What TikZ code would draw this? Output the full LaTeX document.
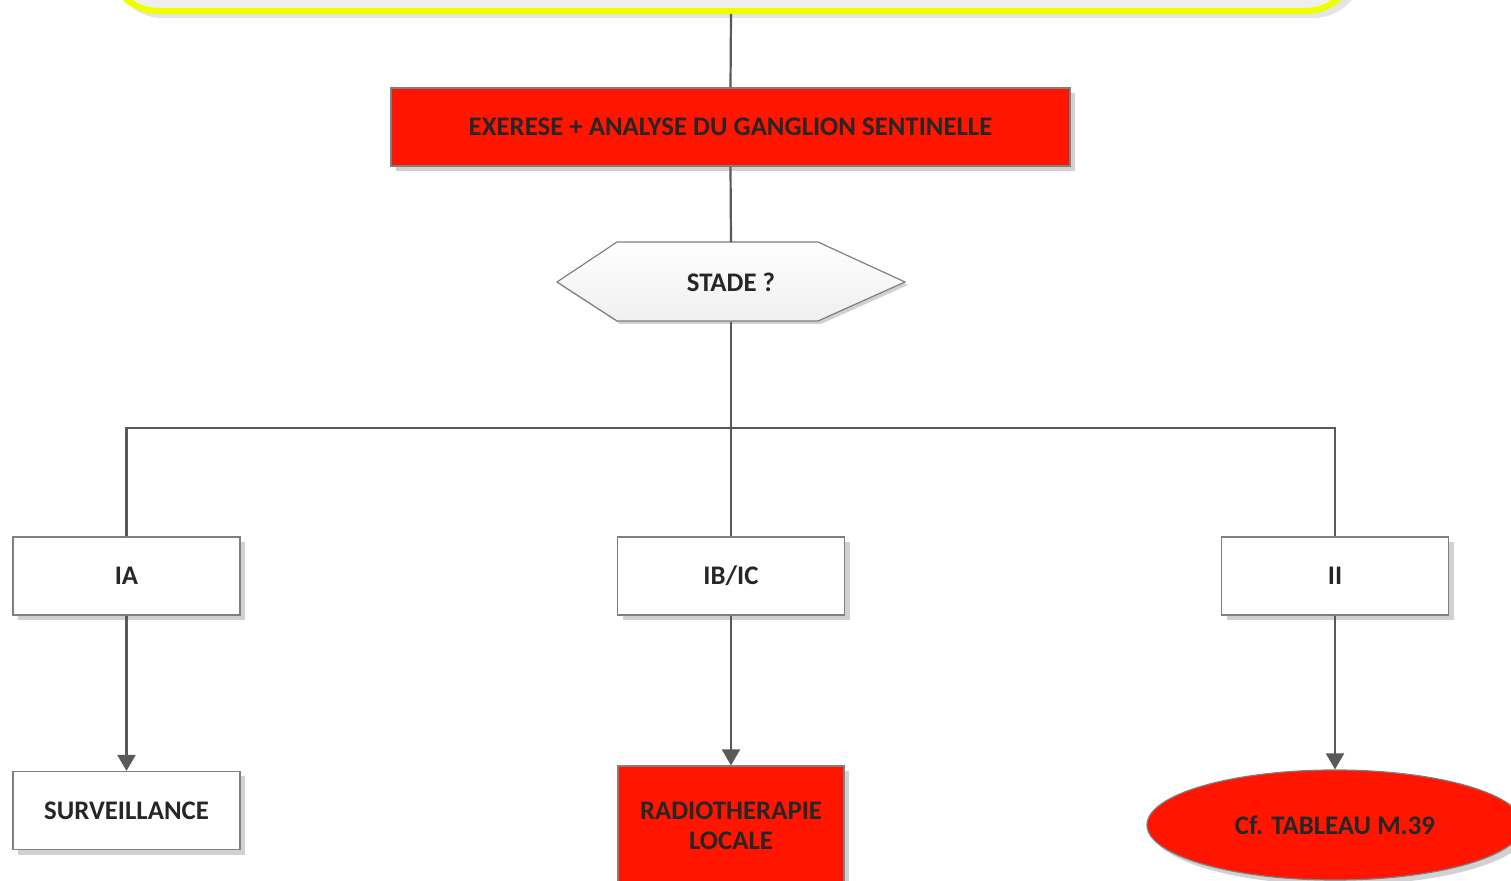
\documentclass[tikz,border=0pt]{standalone}
\usepackage{fontspec}
\setmainfont{Carlito}
\usetikzlibrary{arrows.meta,shadows,shapes.geometric}
\definecolor{rd}{HTML}{FF1500}
\definecolor{ln}{HTML}{595959}
\definecolor{bd}{HTML}{7F7F7F}
\definecolor{tx}{HTML}{262626}
\definecolor{yl}{HTML}{F0FF00}
\definecolor{lg}{HTML}{EFEFEF}
\tikzset{
  shd/.style={drop shadow={shadow xshift=2.5pt,shadow yshift=-2.5pt,fill=black!18,opacity=1}},
  lbl/.style={font=\fontsize{13.4}{16}\selectfont\bfseries, text=tx, align=center},
  wbox/.style={lbl, draw=bd, line width=0.6pt, fill=white, shd, minimum width=113.5pt, minimum height=39pt, inner sep=0pt},
  rbox/.style={lbl, draw=bd, line width=0.6pt, fill=rd, shd, inner sep=0pt},
  conn/.style={draw=ln, line width=1.1pt},
  arr/.style={conn, -{Triangle[width=9pt,length=8pt]}},
}
\begin{document}
\begin{tikzpicture}[x=0.5pt,y=-0.5pt]
\useasboundingbox (0,0) rectangle (1511,881);
% top yellow box
\fill[black!10, rounded corners=24pt] (114,-300) rectangle (1362,18);
\draw[yl, line width=3.2pt, fill=lg, rounded corners=24pt] (110,-300) rectangle (1354,11);
\coordinate (top) at (731,14);
% red box
\node[rbox, minimum width=339.5pt, minimum height=39pt] (ex) at (730.5,127) {EXERESE + ANALYSE DU GANGLION SENTINELLE};
% hexagon
\node[lbl, minimum width=174pt, minimum height=39.5pt, inner sep=0pt] (stade) at (731,282) {};
\fill[black!18] (560,285) -- (620,245) -- (821,245) -- (908,285) -- (821,324) -- (620,324) -- cycle;
\draw[draw=bd, line width=0.6pt, top color=white, bottom color=lg] (557,282) -- (617,242) -- (818,242) -- (905,282) -- (818,321) -- (617,321) -- cycle;
\node[lbl] at (731,282) {STADE ?};
% stage boxes
\node[wbox] (ia) at (126.5,576) {IA};
\node[wbox] (ib) at (731,576) {IB/IC};
\node[wbox] (ii) at (1335,576) {II};
% outcomes
\node[wbox] (surv) at (126.5,810.5) {SURVEILLANCE};
\node[rbox, minimum width=113pt, minimum height=60pt] (radio) at (731,826) {RADIOTHERAPIE\\[-1pt]LOCALE};
\node[ellipse, lbl, draw=bd, line width=0.6pt, fill=rd, shd, minimum width=188pt, minimum height=55pt, inner sep=0pt] (tab) at (1335,825) {Cf. TABLEAU M.39};
% connectors
\draw[conn] (top) -- (ex.north);
\draw[conn] (ex.south) -- (stade.north);
\draw[conn] (stade.south) -- (ib.north);
\coordinate (j) at (731,428);
\draw[conn] (ia.north) |- (j) -| (ii.north);
\draw[arr] (ia.south) -- (surv.north);
\draw[arr] (ib.south) -- (radio.north);
\draw[arr] (ii.south) -- (tab.north);
\end{tikzpicture}
\end{document}
